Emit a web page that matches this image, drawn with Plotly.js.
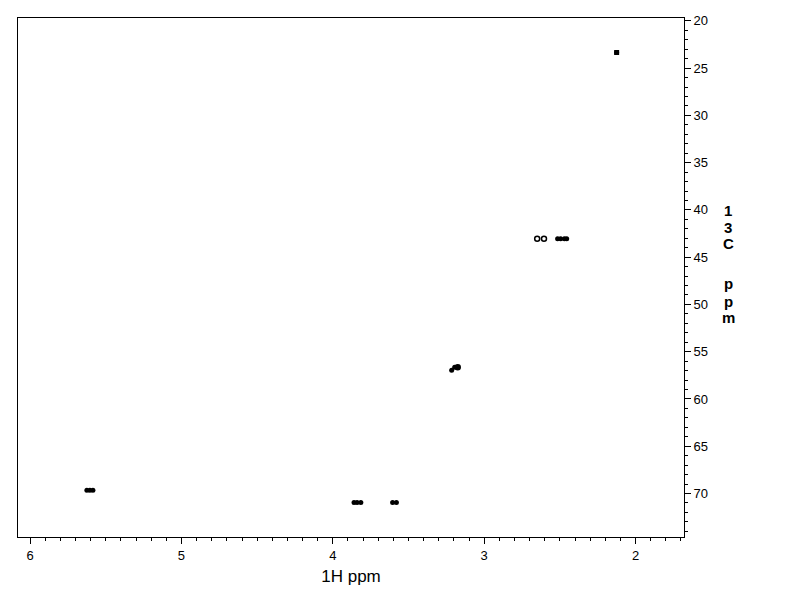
<!DOCTYPE html>
<html>
<head>
<meta charset="utf-8">
<script src="https://cdn.plot.ly/plotly-3.0.1.min.js"></script>
<style>html,body{margin:0;padding:0;background:#fff;}#chart{width:792px;height:612px;}</style>
</head>
<body>
<div id="chart"></div>
<script>
// Filled cross-peak blobs (1H ppm, 13C ppm)
const filledH = [2.125, 2.515, 2.495, 2.470, 2.455, 3.175, 3.195, 3.215, 5.625, 5.605, 5.585, 3.860, 3.840, 3.815, 3.605, 3.580];
const filledC = [23.35, 43.05, 43.05, 43.05, 43.05, 56.65, 56.65, 56.95, 69.65, 69.65, 69.65, 70.95, 70.95, 70.95, 70.95, 70.95];
// Open (ring) cross-peak contours
const openH = [2.650, 2.605, 3.175];
const openC = [43.05, 43.05, 56.65];

const xTitle = '1H ppm';
const yTitleChars = ['1','3','C','p','p','m'];

const traces = [
  {x: filledH, y: filledC, mode: 'markers', type: 'scatter',
   marker: {symbol: 'circle', size: 5, color: '#000'}, hoverinfo: 'x+y'},
  {x: [filledH[0]], y: [filledC[0]], mode: 'markers', type: 'scatter',
   marker: {symbol: 'square', size: 5, color: '#000'}, hoverinfo: 'x+y'},
  {x: openH, y: openC, mode: 'markers', type: 'scatter',
   marker: {symbol: 'circle-open', size: 5, color: '#000', line: {width: 1.5, color: '#000'}}, hoverinfo: 'x+y'}
];

const font = {family: 'Liberation Sans, Arial, sans-serif', color: '#000', size: 12};

// vertical stacked title, one annotation per character
const charY = [210, 227, 244, 283, 301, 318];
const annotations = yTitleChars.map((c, i) => ({
  xref: 'paper', yref: 'paper', x: (728 - 18) / 666, y: (537 - charY[i]) / 519,
  xanchor: 'center', yanchor: 'middle', showarrow: false,
  text: '<b>' + c + '</b>',
  font: {family: font.family, size: 15, color: '#000'}
}));

const layout = {
  width: 792, height: 612,
  margin: {l: 18, r: 108, t: 18, b: 75, pad: 0},
  paper_bgcolor: '#fff', plot_bgcolor: '#fff',
  showlegend: false,
  font: font,
  xaxis: {
    range: [6.08, 1.68], showgrid: false, zeroline: false,
    showline: true, linecolor: '#000', linewidth: 1, mirror: true,
    ticks: 'outside', ticklen: 6, tickwidth: 1, tickcolor: '#000',
    tickvals: [6,5,4,3,2], ticktext: ['6','5','4','3','2'],
    minor: {dtick: 0.1, ticks: 'outside', ticklen: 3, tickcolor: '#000', showgrid: false},
    tickfont: {family: font.family, size: 13, color: '#000'},
    title: {text: xTitle, font: {family: font.family, size: 17, color: '#000'}, standoff: 8}
  },
  yaxis: {
    range: [74.6, 19.7], side: 'right', showgrid: false, zeroline: false,
    showline: true, linecolor: '#000', linewidth: 1, mirror: true,
    ticks: 'outside', ticklen: 6, tickwidth: 1, tickcolor: '#000',
    tickvals: [20,25,30,35,40,45,50,55,60,65,70],
    minor: {dtick: 1, ticks: 'outside', ticklen: 3, tickcolor: '#000', showgrid: false},
    tickfont: {family: font.family, size: 13, color: '#000'}
  },
  annotations: annotations
};

Plotly.newPlot('chart', traces, layout, {displayModeBar: false, staticPlot: true});
</script>
</body>
</html>
